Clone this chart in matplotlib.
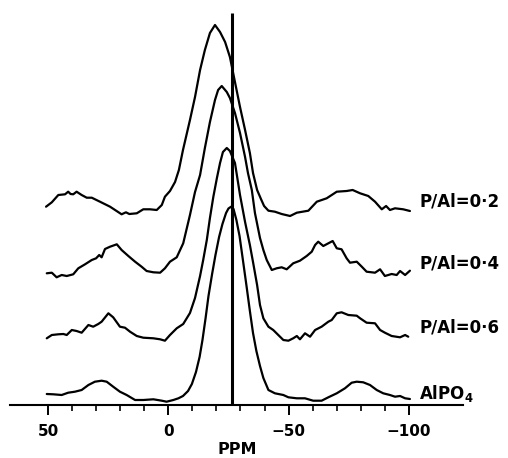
import matplotlib
matplotlib.use("Agg")
import matplotlib.pyplot as plt
from matplotlib.ticker import FixedLocator

# ---------------- data (ppm, intensity in stacked plot units) ----------------
ppm_02 = [50.8, 48.4, 45.7, 42.9, 41.6, 40.6, 39.5, 38.1, 36.0, 33.9, 31.8, 28.4, 24.2,
          19.4, 17.6, 16.2, 13.1, 10.4, 7.6, 4.8, 2.7, 1.4, -0.7, -2.8, -4.4, -6.1, -9.0,
          -11.1, -13.2, -15.2, -17.3, -19.4, -21.5, -23.6, -25.6, -27.7, -29.8, -31.9,
          -33.9, -35.2, -36.9, -38.5, -39.8, -41.6, -44.3, -47.1, -50.6, -53.4, -58.2,
          -61.7, -65.8, -70.0, -74.1, -76.6, -79.7, -83.1, -85.9, -88.7, -90.5, -92.1,
          -94.2, -97.6, -100.4]
int_02 = [198.3, 202.7, 210, 210.7, 213.3, 211, 210.7, 213.3, 210, 207.3, 207.3, 203.3, 198.3,
          190.7, 192.7, 191, 191.7, 195.7, 195.7, 195, 200, 208.3, 214, 223, 235, 255, 285,
          308, 335, 355, 372, 380, 373, 363, 348, 323, 298, 275,
          252, 232, 215, 206, 199, 194.3, 193.3, 191, 189, 192.3, 194.3,
          203.3, 206.7, 213.3, 214, 215, 211.7, 209, 203.3, 195.7, 199, 195,
          196.7, 195.7, 194]

ppm_04 = [50.5, 48.4, 46.4, 44.3, 42.2, 39.5, 37.4, 34.6, 31.8, 30.0, 28.7, 27.7, 26.3, 24.2,
          21.4, 19.4, 16.6, 13.8, 11.1, 9.0, 6.2, 3.4, 1.4, -0.7, -3.5, -6.2, -9.0, -11.1,
          -13.2, -15.2, -17.3, -19.4, -20.7, -22.2, -24.3, -25.6, -27.7, -29.8, -31.9,
          -33.1, -34.7, -36.0, -38.1, -39.5, -40.9, -43.0, -45.0, -47.1, -49.2, -51.9,
          -54.7, -57.5, -59.6, -61.0, -62.3, -64.4, -66.5, -68.3, -70.0, -72.0, -74.1,
          -75.5, -78.3, -80.4, -82.4, -85.9, -88.0, -90.0, -92.8, -94.9, -96.3, -98.4, -100.4]
int_04 = [131.7, 132.3, 127.7, 130, 129, 130.7, 136.7, 140.7, 145, 146.7, 150, 147.7, 156, 158.3,
          160.7, 155, 149, 143.3, 138.3, 134, 132.7, 132.3, 136.7, 143.3, 147.7, 161.7, 190, 213,
          230, 257, 283, 305, 315, 319, 313, 307, 292, 272, 248,
          232, 215, 192, 167, 155, 145, 135, 136.7, 137.7, 135.7, 141.7,
          144.3, 149, 153.3, 160, 163.3, 159, 161.7, 164, 156.7, 155.7, 146.7,
          142.3, 143.3, 138.3, 133.3, 132.3, 135.7, 129, 131, 130, 134, 130, 134.3]

ppm_06 = [50.5, 48.4, 45.7, 43.6, 42.2, 40.1, 38.1, 36.0, 33.2, 31.2, 29.1, 27.7, 24.9, 22.9,
          20.1, 18.0, 15.9, 13.1, 10.4, 6.2, 3.4, 1.4, -0.7, -3.5, -6.2, -9.0, -11.1, -13.2,
          -14.5, -16.0, -17.3, -18.7, -20.2, -21.5, -22.7, -24.3, -25.6, -27.7, -29.8, -31.9,
          -33.9, -35.2, -36.9, -38.1, -39.5, -41.6, -43.6, -45.7, -47.8, -49.9, -51.9, -53.4,
          -54.7, -56.8, -58.9, -61.0, -63.7, -66.5, -67.9, -70.0, -72.0, -74.8, -78.3, -79.7,
          -82.4, -85.9, -88.0, -90.0, -92.8, -96.3, -98.4, -99.7]
int_06 = [66.7, 70, 70.7, 71, 70, 75, 74, 72.3, 80, 78.3, 81, 83.3, 91.7, 87.7,
          78.3, 77.3, 73.3, 69, 67.3, 66.7, 65.7, 64.3, 70, 76.7, 81, 92, 107, 129,
          145, 165, 187, 208, 227, 242, 253, 257, 254, 242, 210, 183,
          160, 143, 120, 100, 86.7, 78.3, 75, 70, 65, 64.3, 66.7, 69,
          65.7, 71.7, 68.3, 75, 78.3, 83.3, 85, 91.7, 92.7, 90, 89.3, 86.7,
          82.3, 81.7, 75, 72.3, 69, 67.7, 70, 68.3]

ppm_alpo4 = [50.5, 47.8, 44.3, 41.6, 38.8, 36.0, 33.2, 30.5, 27.7, 25.6, 22.9, 20.1, 17.3,
             13.8, 10.4, 6.2, 2.7, 0.7, -2.1, -4.2, -6.1, -8.2, -9.8, -11.5, -13.0, -14.2,
             -15.5, -16.7, -18.2, -19.6, -21.1, -22.5, -24.0, -25.0, -26.1, -27.1, -28.3,
             -29.6, -31.0, -32.5, -33.9, -35.2, -36.6, -38.1, -39.5, -41.6, -44.3, -47.8,
             -49.9, -53.4, -56.8, -60.2, -63.7, -66.5, -70.0, -73.4, -76.2, -78.3, -81.0,
             -83.8, -86.6, -89.3, -92.1, -94.2, -96.3, -98.4, -100.4]
int_alpo4 = [11, 10.7, 10, 12.3, 13.3, 15, 20, 23.3, 24.3, 23.3, 18.3, 13.3, 10,
             5, 5, 5.7, 4.3, 3.3, 5, 6.7, 9, 14, 21, 33, 48, 65,
             87, 109, 131, 150, 168, 181, 192, 196.5, 198.3, 196, 185,
             169, 145, 119, 94, 72, 54, 39, 27, 15, 11.7, 10,
             7.7, 6.7, 6.7, 4.3, 4.3, 7.7, 11.7, 16.7, 22.3, 23.3, 22.7,
             20, 15, 11.7, 10, 8.3, 9, 6.7, 6]

series_ppm = [ppm_02, ppm_04, ppm_06, ppm_alpo4]
series_int = [int_02, int_04, int_06, int_alpo4]
labels = ["P/Al=0·2", "P/Al=0·4", "P/Al=0·6", r"$\mathbf{AlPO_4}$"]
label_y = [198.3, 136, 72.3, 6]

ref_ppm = -26.5
ref_top = 392

major_ticks = [50, 0, -50, -100]
major_labels = ["50", "0", "\u221250", "\u2212100"]
minor_ticks = [40, 30, 20, 10, -10, -20, -30, -40, -60, -70, -80, -90]

# ---------------- figure ----------------
plt.rcParams["font.family"] = ["DejaVu Sans"]
plt.rcParams["mathtext.fontset"] = "dejavusans"

fig = plt.figure(figsize=(5.08, 4.58), dpi=100)
ax = fig.add_axes([0, 0, 1, 1])
ax.set_xlim(69.93, -141.15)
ax.set_ylim(-53, 405)

for xs, ys in zip(series_ppm, series_int):
    ax.plot(xs, ys, color="black", lw=1.6, solid_joinstyle="round", solid_capstyle="round")

ax.plot([ref_ppm, ref_ppm], [0, ref_top], color="black", lw=2.2, solid_capstyle="butt")

for lab, yy in zip(labels, label_y):
    ax.text(-104.2, yy, lab, ha="left", va="baseline", fontsize=12, fontweight="bold")

for s in ["top", "left", "right"]:
    ax.spines[s].set_visible(False)
ax.spines["bottom"].set_position(("data", 0))
ax.spines["bottom"].set_bounds(-122.4, 65.8)
ax.spines["bottom"].set_linewidth(1.5)
ax.yaxis.set_visible(False)

ax.xaxis.set_major_locator(FixedLocator(major_ticks))
ax.xaxis.set_minor_locator(FixedLocator(minor_ticks))
ax.set_xticklabels(major_labels)
ax.tick_params(axis="x", which="major", direction="out", length=7.5, width=1.4,
               pad=6.5, labelsize=11)
ax.tick_params(axis="x", which="minor", direction="out", length=4.5, width=1.2)
for t in ax.get_xticklabels():
    t.set_fontweight("bold")

ax.text(-28.75, -44, "PPM", ha="center", va="center", fontsize=11.5, fontweight="bold")

fig.savefig("out.png", dpi=100, facecolor="white")
